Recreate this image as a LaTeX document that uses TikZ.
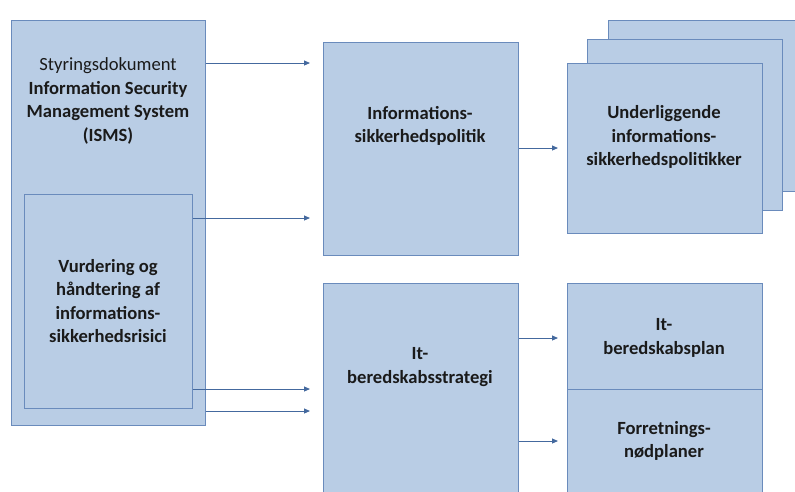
\documentclass[tikz,border=0pt]{standalone}
\usepackage{fontspec}
\setmainfont{Carlito}
\usetikzlibrary{arrows.meta}
\definecolor{boxfill}{HTML}{B9CDE5}
\definecolor{boxline}{HTML}{6A8BBC}
\definecolor{arrline}{HTML}{44699E}
\definecolor{txtcol}{HTML}{1A1A1A}
\tikzset{
	box/.style={draw=boxline, fill=boxfill, line width=0.9pt, rectangle, anchor=north west, inner sep=0pt},
	txt/.style={align=center, text=txtcol, font=\fontsize{18.6}{23.5}\selectfont\bfseries},
	arr/.style={draw=arrline, line width=0.9pt, -{Triangle[length=6pt,width=5pt]}}
}
\begin{document}
\begin{tikzpicture}[x=1pt, y=-1pt]
	\useasboundingbox (0,0) rectangle (795,491);
	\clip (0,0) rectangle (795,491);

	\node[box, minimum width=194pt, minimum height=405pt] (isms) at (11,20) {};
	\node[box, minimum width=168pt, minimum height=214pt] (risk) at (24,194) {};
	\node[box, minimum width=195pt, minimum height=213pt] (pol) at (323,42) {};
	\node[box, minimum width=195pt, minimum height=230pt] (strat) at (323,283) {};
	\node[box, minimum width=195pt, minimum height=171pt] (sub3) at (608,20) {};
	\node[box, minimum width=195pt, minimum height=171pt] (sub2) at (587,39) {};
	\node[box, minimum width=195pt, minimum height=170pt] (sub1) at (567,63) {};
	\node[box, minimum width=195pt, minimum height=106pt] (plan) at (567,283) {};
	\node[box, minimum width=195pt, minimum height=124pt] (nod) at (567,389) {};

	\node[txt] (isms-t) at (108,101) {{\mdseries Styringsdokument}\\Information Security\\Management System\\(ISMS)};
	\node[txt] (risk-t) at (108,301) {Vurdering og\\håndtering af\\informations-\\sikkerhedsrisici};
	\node[txt] (pol-t) at (420,126) {Informations-\\sikkerhedspolitik};
	\node[txt] (sub-t) at (664,137) {Underliggende\\informations-\\sikkerhedspolitikker};
	\node[txt] (strat-t) at (420,367) {It-\\beredskabsstrategi};
	\node[txt] (plan-t) at (664,338) {It-\\beredskabsplan};
	\node[txt] (nod-t) at (664,441) {Forretnings-\\nødplaner};

	\coordinate (e1) at (310,63);
	\coordinate (e2) at (310,218);
	\coordinate (e3) at (310,389);
	\coordinate (e4) at (310,411);
	\coordinate (e5) at (558,148);
	\coordinate (e6) at (558,338);
	\coordinate (e7) at (558,441);

	\draw[arr] (isms.east |- e1) -- (e1);
	\draw[arr] (risk.east |- e2) -- (e2);
	\draw[arr] (risk.east |- e3) -- (e3);
	\draw[arr] (isms.east |- e4) -- (e4);
	\draw[arr] (pol.east |- e5) -- (e5);
	\draw[arr] (strat.east |- e6) -- (e6);
	\draw[arr] (strat.east |- e7) -- (e7);
\end{tikzpicture}
\end{document}
